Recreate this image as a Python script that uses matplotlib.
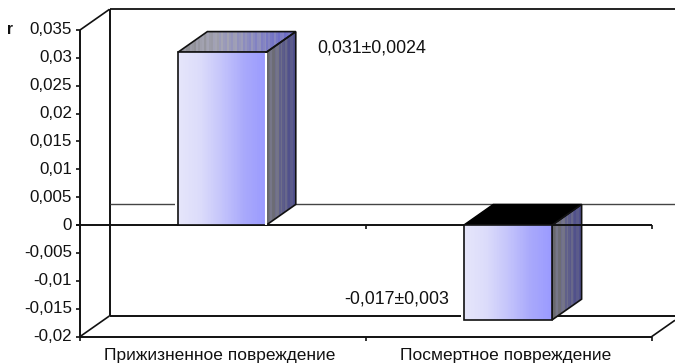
import matplotlib
matplotlib.use('Agg')
import numpy as np
import matplotlib.pyplot as plt
from matplotlib.patches import Polygon
from matplotlib.colors import LinearSegmentedColormap

plt.rcParams['font.family'] = ['Liberation Sans', 'DejaVu Sans']

categories = ['Прижизненное повреждение', 'Посмертное повреждение']
values = [0.031, -0.017]
value_labels = ['0,031±0,0024', '-0,017±0,003']
y_ticks = [-0.02, -0.015, -0.01, -0.005, 0, 0.005, 0.01, 0.015, 0.02, 0.025, 0.03, 0.035]
y_tick_labels = ['-0,02', '-0,015', '-0,01', '-0,005', '0', '0,005', '0,01', '0,015', '0,02', '0,025', '0,03', '0,035']

W, H = 675, 363
fig = plt.figure(figsize=(W / 100, H / 100), dpi=100)
# front plane of the 3d box
left, right, top_px, bottom_px = 80, 651.7, 30.0, 336.6
ax = fig.add_axes([left / W, 1 - bottom_px / H, (right - left) / W, (bottom_px - top_px) / H])
ax.set_xlim(-0.5, 1.5)
ax.set_ylim(-0.02, 0.035)
ax.axis('off')

px_x = 2 / (right - left)
px_y = 0.055 / (bottom_px - top_px)
dx = 29.5 * px_x
dy = 20.7 * px_y
bar_w = 88.4 * px_x
x_end = -0.5 + (675 - left) * px_x

front_cm = LinearSegmentedColormap.from_list('front', ['#e6e6fb', '#dcdcfa', '#c4c4fb', '#a9a9fc', '#9a9aff'])
side_cm = LinearSegmentedColormap.from_list('side', ['#68686c', '#77778a', '#5e5e8a', '#50508c'])
top_cm = LinearSegmentedColormap.from_list('top', ['#8e8e94', '#a5a5b4', '#8c8cc0', '#6c6cc8'])
stripes = np.array([1, -1, 0.3, 1, -0.6, -1, 0.8, 0, -1, 1, -0.4, 0.7])


def line(xs, ys, lw=1.3, color='#111111', z=1):
    ax.plot(xs, ys, color=color, lw=lw, zorder=z, clip_on=False, solid_capstyle='butt')


def shaded(poly, x0, x1, y0, y1, cm, n, amp, z):
    g = np.linspace(0, 1, n) + amp * np.resize(stripes, n)
    im = ax.imshow(g[np.newaxis, :], extent=[x0, x1, y0, y1], cmap=cm, vmin=0, vmax=1,
                   aspect='auto', zorder=z, interpolation='nearest')
    patch = Polygon(poly, closed=True, transform=ax.transData, fc='none', ec='none')
    ax.add_patch(patch)
    im.set_clip_path(patch)
    ax.add_patch(Polygon(poly, closed=True, fc='none', ec='#111111', lw=1.2, zorder=z + 0.1, clip_on=False))


# box walls
line([-0.5, -0.5], [-0.02, 0.035], 1.4, z=2)
line([-0.5 + dx, -0.5 + dx], [-0.02 + dy, 0.035 + dy], 1.4)
line([-0.5 + dx, x_end], [0.035 + dy, 0.035 + dy])
line([-0.5 + dx, x_end], [dy, dy], 1.0, '#444444')
line([-0.5 + dx, x_end], [-0.02 + dy, -0.02 + dy], 1.4)
line([-0.5, 1.5], [-0.02, -0.02], 1.4)
line([-0.5, -0.5 + dx], [0.035, 0.035 + dy], 1.2)
line([-0.5, -0.5 + dx], [-0.02, -0.02 + dy], 1.2)
line([1.5, x_end], [-0.02, -0.02 + dy * (x_end - 1.5) / dx], 1.2)
line([-0.5 - 4 * px_x, 1.5], [0, 0], 1.4, z=5.5)

# tick marks
for t in y_ticks:
    line([-0.5 - 4 * px_x, -0.5], [t, t], 1.2)
for c in [-0.5, 0.5, 1.5]:
    line([c, c], [0, -4 * px_y], 1.2, z=3)
    line([c, c], [-0.02, -0.02 - 4 * px_y], 1.2)

for i, v in enumerate(values):
    x0 = i - bar_w / 2 - 0.003
    x1 = x0 + bar_w
    y_top = max(v, 0)
    y_bot = min(v, 0)
    z = 5
    # halo that breaks the back line beside the bar
    ax.fill_between([x0 - 3 * px_x, x1 + 2 * px_x], y_bot, y_top, color='white', lw=0, zorder=4)
    shaded([(x1, y_bot), (x1 + dx, y_bot + dy), (x1 + dx, y_top + dy), (x1, y_top)],
           x1, x1 + dx, y_bot, y_top + dy, side_cm, 20, 0.16, z)
    if v > 0:
        shaded([(x0, y_top), (x0 + dx, y_top + dy), (x1 + dx, y_top + dy), (x1, y_top)],
               x0, x1 + dx, y_top, y_top + dy, top_cm, 60, 0.1, z)
    else:
        ax.add_patch(Polygon([(x0, y_top), (x0 + dx, y_top + dy), (x1 + dx, y_top + dy), (x1, y_top)],
                             closed=True, fc='black', ec='black', lw=1, zorder=z))
    shaded([(x0, y_bot), (x1, y_bot), (x1, y_top), (x0, y_top)],
           x0, x1, y_bot, y_top, front_cm, 120, 0, z + 1)
    if v > 0:
        line([x1, x1], [y_bot, y_top - 0.5 * px_y], 1.5, 'white', z + 2)

ax.set_xlim(-0.5, 1.5)
ax.set_ylim(-0.02, 0.035)

fs = 12.2
for t, lab in zip(y_ticks, y_tick_labels):
    ax.text(-0.5 - 8 * px_x, t, lab, ha='right', va='center', fontsize=fs, color='#111111')
ax.text(-0.5 - 73 * px_x, 0.035, 'r', ha='left', va='center', fontsize=fs - 1, fontweight='bold', color='#111111')
for i, c in enumerate(categories):
    ax.text(i - 0.01, -0.02 - 18.5 * px_y, c, ha='center', va='center', fontsize=12.5, color='#111111')
ax.text(-0.5 + 237 * px_x, 0.0317, value_labels[0], ha='left', va='center', fontsize=12.8, color='#111111')
ax.text(-0.5 + 264 * px_x, -0.0132, value_labels[1], ha='left', va='center', fontsize=12.8, color='#111111')

plt.savefig('out.png', dpi=100)
